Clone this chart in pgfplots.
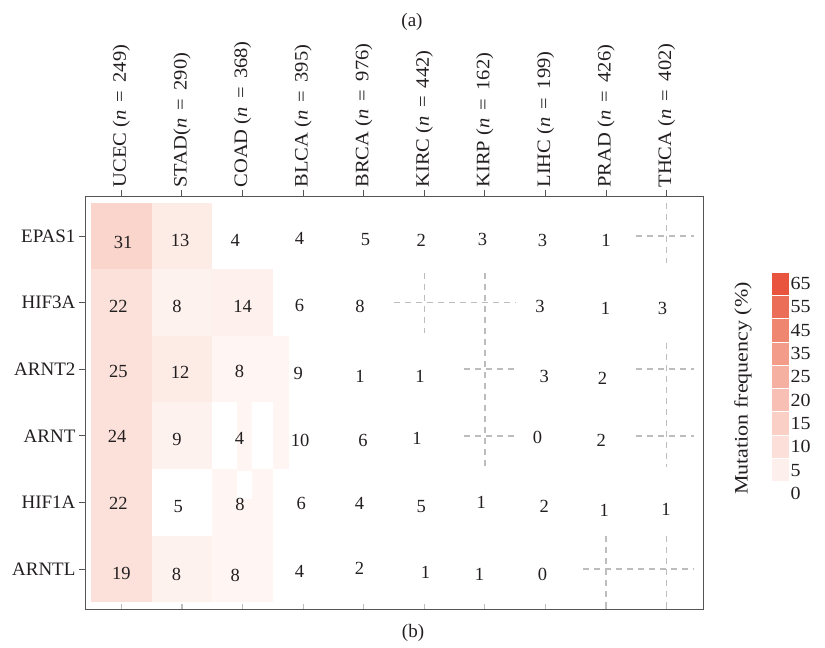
\documentclass[border=0pt]{standalone}
\usepackage{fontspec}
\setmainfont{Liberation Serif}
\newfontfamily\wide{Liberation Serif}[FakeStretch=1.08]
\newfontfamily\wider{Liberation Serif}[FakeStretch=1.16]
\usepackage{pgfplots}
\pgfplotsset{compat=1.18}

\definecolor{txt}{HTML}{231F20}
\definecolor{frame}{HTML}{555555}
\definecolor{na}{HTML}{BDBDBD}
% colorbar bands
\definecolor{b65}{HTML}{E8543E}
\definecolor{b55}{HTML}{EB6E58}
\definecolor{b45}{HTML}{EF8670}
\definecolor{b35}{HTML}{F39C8A}
\definecolor{b25}{HTML}{F6B0A2}
\definecolor{b20}{HTML}{F8C0B4}
\definecolor{b15}{HTML}{F9CFC6}
\definecolor{b10}{HTML}{FBDFD8}
\definecolor{b5}{HTML}{FDEFEB}
% tiles
\definecolor{tA}{HTML}{F9D5CC}
\definecolor{tB}{HTML}{FBE1DA}
\definecolor{tC}{HTML}{FDEBE6}
\definecolor{tD}{HTML}{FEF2EF}
\definecolor{tE}{HTML}{FEF0EC}
\definecolor{tF}{HTML}{FFF5F2}

\newcommand{\lab}{\fontsize{18.5}{20}\selectfont}
\newcommand{\nn}[1]{(\textit{n}\,\ =\ \,#1)}

\pgfplotstableread{
x y label
0.03 4.90 31
0.97 4.93 13
1.88 4.94 4
2.94 4.96 4
4.03 4.94 5
4.95 4.94 2
5.96 4.94 3
6.95 4.93 3
8.00 4.94 1
-0.05 3.95 22
0.92 3.94 8
2.00 3.95 14
2.94 3.95 6
3.94 3.94 8
6.91 3.94 3
7.99 3.91 1
8.93 3.91 3
-0.05 2.96 25
0.97 2.95 12
1.95 2.96 8
2.92 2.93 9
3.94 2.89 1
4.93 2.89 1
6.98 2.89 3
7.94 2.86 2
-0.07 1.99 24
0.92 1.95 9
1.95 1.96 4
2.95 1.93 10
3.99 1.93 6
4.88 1.96 1
6.87 1.98 0
7.92 1.93 2
-0.05 0.99 22
0.94 0.94 5
1.96 0.97 8
2.97 0.99 6
3.93 0.99 4
4.95 0.94 5
5.94 1.00 1
6.98 0.94 2
7.97 0.88 1
8.99 0.90 1
0.00 -0.06 19
0.91 -0.08 8
1.88 -0.09 8
2.94 -0.03 4
3.93 0.01 2
5.02 -0.05 1
5.91 -0.08 1
6.95 -0.08 0
}\cells

\begin{document}
\begin{tikzpicture}
\useasboundingbox (-85pt,-39pt) rectangle (740pt,609pt);

% grey inner ticks along the bottom edge
\begin{axis}[
  at={(0,0)}, anchor=south west,
  scale only axis, width=618pt, height=413pt,
  xmin=-0.6, xmax=9.6, ymin=-0.6, ymax=5.6,
  xtick={0,...,9}, xticklabels={}, ytick=\empty,
  xtick pos=lower, tick align=inside, major tick length=5pt,
  tick style={na, line width=1.2pt},
  axis line style={draw=none},
]
\end{axis}

\begin{axis}[
  name=main, at={(0,0)}, anchor=south west,
  scale only axis, width=618pt, height=413pt,
  xmin=-0.6, xmax=9.6, ymin=-0.6, ymax=5.6,
  xtick={0,...,9}, ytick={0,...,5},
  xticklabels={UCEC \nn{249}, STAD\nn{290}, COAD \nn{368},
    BLCA \nn{395}, BRCA \nn{976}, KIRC \nn{442},
    KIRP \nn{162}, LIHC \nn{199}, PRAD \nn{426},
    THCA \nn{402}},
  yticklabels={ARNTL,HIF1A,ARNT,ARNT2,HIF3A,EPAS1},
  xticklabel pos=upper, xtick pos=upper, ytick pos=left,
  tick align=outside, major tick length=6pt,
  tick style={frame, line width=0.9pt},
  axis line style={frame, line width=0.9pt},
  xticklabel style={rotate=90, anchor=west, font=\wide\fontsize{19}{21}\selectfont, text=txt, xshift=-1pt},
  yticklabel style={font=\fontsize{19}{21}\selectfont, text=txt},
  every node near coord/.append style={anchor=center, font=\lab, text=txt},
]
% coloured tiles
\addplot[fill=tA, draw=none] coordinates {(-0.5,4.5)(0.5,4.5)(0.5,5.5)(-0.5,5.5)} -- cycle;
\addplot[fill=tB, draw=none] coordinates {(-0.5,-0.5)(0.5,-0.5)(0.5,4.5)(-0.5,4.5)} -- cycle;
\addplot[fill=tC, draw=none] coordinates {(0.5,4.5)(1.5,4.5)(1.5,5.5)(0.5,5.5)} -- cycle;
\addplot[fill=tD, draw=none] coordinates {(0.5,3.5)(1.5,3.5)(1.5,4.5)(0.5,4.5)} -- cycle;
\addplot[fill=tC, draw=none] coordinates {(0.5,2.5)(1.5,2.5)(1.5,3.5)(0.5,3.5)} -- cycle;
\addplot[fill=tD, draw=none] coordinates {(0.5,1.5)(1.5,1.5)(1.5,2.5)(0.5,2.5)} -- cycle;
\addplot[fill=tD, draw=none] coordinates {(0.5,-0.5)(1.5,-0.5)(1.5,0.5)(0.5,0.5)} -- cycle;
\addplot[fill=tE, draw=none] coordinates {(1.5,3.5)(2.5,3.5)(2.5,4.5)(1.5,4.5)} -- cycle;
\addplot[fill=tF, draw=none] coordinates {(1.5,2.5)(2.76,2.5)(2.76,3.5)(1.5,3.5)} -- cycle;
\addplot[fill=tF, draw=none] coordinates {(1.91,1.5)(2.16,1.5)(2.16,2.5)(1.91,2.5)} -- cycle;
\addplot[fill=tF, draw=none] coordinates {(2.5,1.5)(2.76,1.5)(2.76,2.5)(2.5,2.5)} -- cycle;
\addplot[fill=tF, draw=none] coordinates {(1.5,0.5)(2.5,0.5)(2.5,1.5)(1.5,1.5)} -- cycle;
\addplot[fill=white, draw=none] coordinates {(1.91,1.05)(2.16,1.05)(2.16,1.47)(1.91,1.47)} -- cycle;
\addplot[fill=tF, draw=none] coordinates {(1.5,-0.5)(2.5,-0.5)(2.5,0.5)(1.5,0.5)} -- cycle;

% missing values: dashed crosses
\pgfplotsset{nastyle/.style={na, line width=1.5pt, dash pattern=on 6pt off 5pt, forget plot}}
\addplot[nastyle] coordinates {(8.5,5)(9.45,5)};
\addplot[nastyle] coordinates {(9,5.5)(9,4.6)};
\addplot[nastyle] coordinates {(4.5,4)(6.5,4)};
\addplot[nastyle] coordinates {(5,4.45)(5,3.55)};
\addplot[nastyle] coordinates {(6,4.45)(6,1.53)};
\addplot[nastyle] coordinates {(5.65,3)(6.5,3)};
\addplot[nastyle] coordinates {(8.5,3)(9.45,3)};
\addplot[nastyle] coordinates {(9,3.4)(9,1.53)};
\addplot[nastyle] coordinates {(5.65,2)(6.5,2)};
\addplot[nastyle] coordinates {(8.5,2)(9.45,2)};
\addplot[nastyle] coordinates {(7.62,0)(9.45,0)};
\addplot[nastyle] coordinates {(8,0.5)(8,-0.6)};
\addplot[nastyle] coordinates {(9,0.5)(9,-0.6)};

% values
\addplot[draw=none, mark=none, nodes near coords, point meta=explicit symbolic]
  table[x=x, y=y, meta=label] {\cells};
\end{axis}

% colour scale
\begin{axis}[
  at={(686pt,104pt)}, anchor=south west,
  scale only axis, width=18pt, height=233pt,
  xmin=0, xmax=1, ymin=0, ymax=10,
  xtick=\empty, ytick={0.5,1.5,...,9.5},
  yticklabels={0,5,10,15,20,25,35,45,55,65},
  yticklabel pos=right, ytick pos=right, major tick length=0pt,
  axis line style={draw=none},
  yticklabel style={font=\wide\fontsize{18.5}{20}\selectfont, text=txt, anchor=west, xshift=-2pt},
  clip=false,
]
\addplot[fill=b5, draw=white, line width=0.6pt] coordinates {(0,1)(1,1)(1,2)(0,2)} -- cycle;
\addplot[fill=b10, draw=white, line width=0.6pt] coordinates {(0,2)(1,2)(1,3)(0,3)} -- cycle;
\addplot[fill=b15, draw=white, line width=0.6pt] coordinates {(0,3)(1,3)(1,4)(0,4)} -- cycle;
\addplot[fill=b20, draw=white, line width=0.6pt] coordinates {(0,4)(1,4)(1,5)(0,5)} -- cycle;
\addplot[fill=b25, draw=white, line width=0.6pt] coordinates {(0,5)(1,5)(1,6)(0,6)} -- cycle;
\addplot[fill=b35, draw=white, line width=0.6pt] coordinates {(0,6)(1,6)(1,7)(0,7)} -- cycle;
\addplot[fill=b45, draw=white, line width=0.6pt] coordinates {(0,7)(1,7)(1,8)(0,8)} -- cycle;
\addplot[fill=b55, draw=white, line width=0.6pt] coordinates {(0,8)(1,8)(1,9)(0,9)} -- cycle;
\addplot[fill=b65, draw=white, line width=0.6pt] coordinates {(0,9)(1,9)(1,10)(0,10)} -- cycle;
\node[rotate=90, font=\wider\fontsize{19}{21}\selectfont, text=txt] at (rel axis cs:-1.55,0.5) {Mutation frequency (\%)};
\end{axis}

\node[font=\fontsize{19}{21}\selectfont, text=txt] at (327pt,587pt) {(a)};
\node[font=\fontsize{19}{21}\selectfont, text=txt] at (328pt,-24pt) {(b)};
\end{tikzpicture}
\end{document}
